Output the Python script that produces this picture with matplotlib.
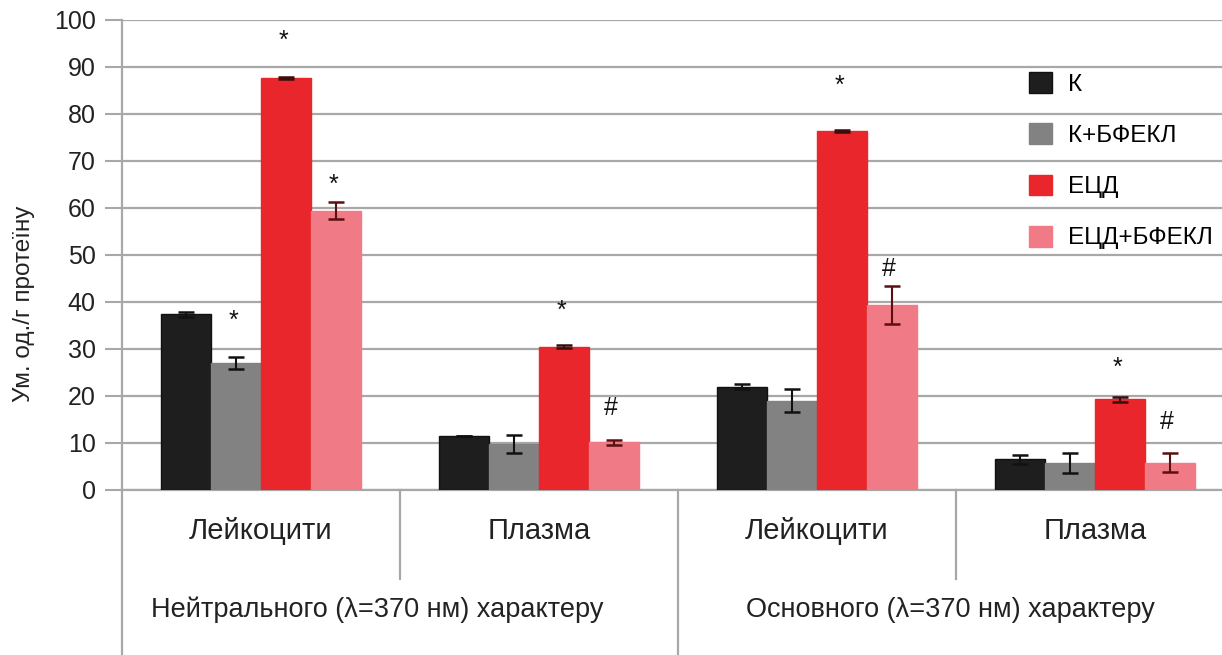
import numpy as np
import matplotlib
matplotlib.use("Agg")
import matplotlib.pyplot as plt

plt.rcParams['font.family'] = ['Liberation Sans', 'DejaVu Sans']

categories = ["Лейкоцити", "Плазма", "Лейкоцити", "Плазма"]
groups = ["Нейтрального (λ=370 нм) характеру", "Основного (λ=370 нм) характеру"]
series = ["К", "К+БФЕКЛ", "ЕЦД", "ЕЦД+БФЕКЛ"]

k_vals = [37.4, 11.4, 22.0, 6.5]
k_err = [0.5, 0.0, 0.6, 0.9]
kb_vals = [27.0, 9.8, 19.0, 5.7]
kb_err = [1.25, 1.9, 2.5, 2.1]
ecd_vals = [87.6, 30.5, 76.4, 19.3]
ecd_err = [0.2, 0.3, 0.2, 0.5]
ecdb_vals = [59.4, 10.1, 39.4, 5.8]
ecdb_err = [1.8, 0.6, 4.0, 2.0]

# significance marks: (series index, category index, symbol, y)
marks = [(1, 0, "*", 36), (2, 0, "*", 95.5), (3, 0, "*", 65),
         (2, 1, "*", 38), (3, 1, "#", 17.5),
         (2, 2, "*", 86), (3, 2, "#", 47),
         (2, 3, "*", 26), (3, 3, "#", 14.5)]

colors = ["#1e1e1e", "#828282", "#e8262b", "#f07a86"]
err_colors = ["#111111", "#111111", "#3a0c0c", "#5a1010"]

fig = plt.figure(figsize=(12.22, 6.55), dpi=100)
ax = fig.add_axes([0.0998, 0.252, 0.91, 0.7175])

x = np.arange(len(categories))
w = 0.18
offsets = [-0.27, -0.09, 0.09, 0.27]
vals = [k_vals, kb_vals, ecd_vals, ecdb_vals]
errs = [k_err, kb_err, ecd_err, ecdb_err]

for i in range(4):
    ax.bar(x + offsets[i], vals[i], w, color=colors[i], label=series[i], zorder=3,
           edgecolor=colors[i] if i > 0 else "#111111", linewidth=1)
    ax.errorbar(x + offsets[i], vals[i], yerr=errs[i], fmt="none", ecolor=err_colors[i],
                elinewidth=1.5, capsize=6, capthick=1.8, zorder=4)

for s, c, sym, y in marks:
    ax.text(x[c] + offsets[s] - 0.01, y, sym, ha="center", va="center", fontsize=18, color="#111111")

ax.set_xlim(-0.5, 3.5)
ax.set_ylim(0, 100)
ax.set_yticks(np.arange(0, 101, 10))
ax.yaxis.grid(True, color="#a8a8a8", linewidth=1.6, zorder=0)
ax.set_axisbelow(True)
ax.tick_params(axis="y", length=12, width=1.5, color="#a8a8a8", labelsize=18, labelcolor="#222222", pad=7)
ax.tick_params(axis="x", length=0, labelbottom=False)
for sp in ["top", "right", "left"]:
    ax.spines[sp].set_visible(False)
ax.spines["bottom"].set_color("#a8a8a8")
ax.spines["bottom"].set_linewidth(1.6)

ax.set_ylabel("Ум. од./г протеїну", fontsize=17.5, color="#222222")
ax.yaxis.set_label_coords(-0.078, 0.396)

# lines and labels below the plot
tr = ax.get_xaxis_transform()
ax.plot([-0.5, -0.5], [1.0, -0.36], transform=tr, color="#a8a8a8", lw=1.6, clip_on=False)
ax.plot([1.5, 1.5], [0, -0.36], transform=tr, color="#a8a8a8", lw=1.6, clip_on=False)
for xs in [0.5, 2.5]:
    ax.plot([xs, xs], [0, -0.19], transform=tr, color="#a8a8a8", lw=1.6, clip_on=False)
for xi, lab in zip(x, categories):
    ax.text(xi, -0.088, lab, transform=tr, ha="center", va="center", fontsize=21, color="#222222")
group_x = [0.42, 2.48]
for gx, lab in zip(group_x, groups):
    ax.text(gx, -0.255, lab, transform=tr, ha="center", va="center", fontsize=19.5, color="#222222")

leg = ax.legend(loc="upper left", bbox_to_anchor=(0.796, 0.935), frameon=False, fontsize=17.5,
                handlelength=0.95, handleheight=0.95, labelspacing=1.12, handletextpad=0.65)

fig.savefig("out.png", dpi=100)
